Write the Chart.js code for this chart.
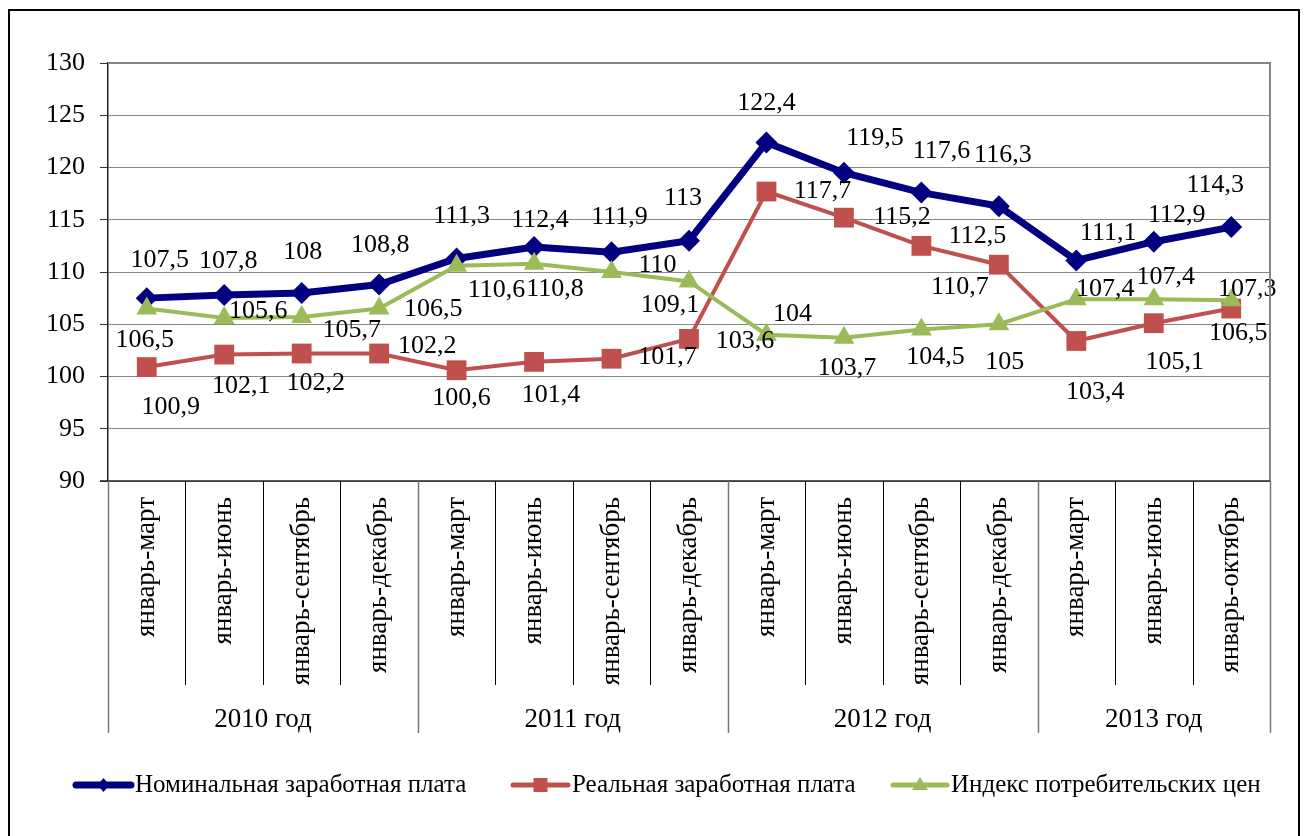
<!DOCTYPE html>
<html lang="ru">
<head>
<meta charset="utf-8">
<title>Заработная плата и индекс цен</title>
<script src="https://cdn.jsdelivr.net/npm/chart.js@4.4.1/dist/chart.umd.min.js"></script>
<style>
  html, body { margin: 0; padding: 0; background: #fff; }
  #wrap { width: 1306px; height: 836px; position: relative; }
</style>
</head>
<body>
<div id="wrap"><canvas id="chart" width="1306" height="836"></canvas></div>
<script>
// Данные графика
const periods = ['январь-март', 'январь-июнь', 'январь-сентябрь', 'январь-декабрь',
                 'январь-март', 'январь-июнь', 'январь-сентябрь', 'январь-декабрь',
                 'январь-март', 'январь-июнь', 'январь-сентябрь', 'январь-декабрь',
                 'январь-март', 'январь-июнь', 'январь-октябрь'];
const years = ['2010 год', '2011 год', '2012 год', '2013 год'];
const yearSizes = [4, 4, 4, 3];

const nominal = [107.5, 107.8, 108, 108.8, 111.3, 112.4, 111.9, 113, 122.4, 119.5, 117.6, 116.3, 111.1, 112.9, 114.3];
const real    = [100.9, 102.1, 102.2, 102.2, 100.6, 101.4, 101.7, 103.6, 117.7, 115.2, 112.5, 110.7, 103.4, 105.1, 106.5];
const cpi     = [106.5, 105.6, 105.7, 106.5, 110.6, 110.8, 110, 109.1, 104, 103.7, 104.5, 105, 107.4, 107.4, 107.3];

const yTicks = [90, 95, 100, 105, 110, 115, 120, 125, 130];

const seriesNames = ['Номинальная заработная плата', 'Реальная заработная плата', 'Индекс потребительских цен'];

// Смещения подписей значений относительно точки (px), как в исходнике
const nominalLabelOff = [[13,-38],[4,-34],[1,-41],[1,-39],[5,-42],[6,-27],[8,-35],[-6,-42],[0,-39],[31,-35],[20,-41],[4,-51],[32,-27],[23,-27],[-16,-42]];
const realLabelOff    = [[24,40],[17,32],[14,30],[48,-7],[5,28],[17,33],[56,-2],[56,2],[56,0],[58,0],[56,-10],[-39,22],[19,51],[21,39],[7,25]];
const cpiLabelOff     = [[-2,32],[34,-7],[50,13],[54,1],[40,24],[21,26],[46,-7],[-19,24],[26,-21],[3,30],[14,28],[6,38],[29,-10],[12,-22],[16,-11]];

const FONT = '"Liberation Serif", "Times New Roman", serif';
const NAVY = '#000080';
const RED = '#C0504D';
const GREEN = '#9BBB59';
const GRID = '#868686';

const fmt = (v) => String(v).replace('.', ',');

/* --------- Подписи значений --------- */
const valueLabels = {
  id: 'valueLabels',
  afterDatasetsDraw(chart){
    const ctx = chart.ctx;
    const offs = [nominalLabelOff, realLabelOff, cpiLabelOff];
    ctx.save();
    ctx.font = `26px ${FONT}`;
    ctx.fillStyle = '#000';
    ctx.textAlign = 'center';
    ctx.textBaseline = 'middle';
    chart.data.datasets.forEach((ds, di) => {
      const meta = chart.getDatasetMeta(di);
      meta.data.forEach((pt, i) => {
        const o = offs[di][i] || [0, -30];
        ctx.fillText(fmt(ds.data[i]), pt.x + o[0], pt.y + o[1]);
      });
    });
    ctx.restore();
  }
};

/* --------- Ось категорий (двухуровневая), рамки и легенда --------- */
const decorations = {
  id: 'decorations',
  afterDraw(chart){
    const ctx = chart.ctx;
    const a = chart.chartArea;
    const n = periods.length;
    const step = (a.right - a.left) / n;
    ctx.save();

    // рамка области построения (верх и право)
    ctx.strokeStyle = GRID;
    ctx.lineWidth = 2;
    ctx.beginPath();
    ctx.moveTo(a.left, a.top);
    ctx.lineTo(a.right, a.top);
    ctx.lineTo(a.right, a.bottom);
    ctx.stroke();

    // ось X
    ctx.strokeStyle = '#222';
    ctx.lineWidth = 1.5;
    ctx.beginPath();
    ctx.moveTo(a.left - 8, a.bottom);
    ctx.lineTo(a.right, a.bottom);
    ctx.stroke();

    // разделители категорий
    const groupEdges = [0];
    yearSizes.reduce((acc, s) => { groupEdges.push(acc + s); return acc + s; }, 0);
    for(let i = 0; i <= n; i++){
      const x = Math.round(a.left + i * step) + 0.5;
      const isGroup = groupEdges.includes(i);
      ctx.strokeStyle = isGroup ? '#777' : '#000';
      ctx.lineWidth = isGroup ? 1.5 : 1;
      ctx.beginPath();
      ctx.moveTo(x, a.bottom);
      ctx.lineTo(x, isGroup ? 733 : 685);
      ctx.stroke();
    }

    // подписи периодов (повёрнуты)
    ctx.fillStyle = '#000';
    ctx.font = `27px ${FONT}`;
    ctx.textAlign = 'right';
    ctx.textBaseline = 'middle';
    periods.forEach((p, i) => {
      const x = a.left + (i + 0.5) * step;
      ctx.save();
      ctx.translate(x, 497);
      ctx.rotate(-Math.PI / 2);
      ctx.fillText(p, 0, 0);
      ctx.restore();
    });

    // подписи годов
    ctx.textAlign = 'center';
    years.forEach((y, gi) => {
      const x = a.left + (groupEdges[gi] + groupEdges[gi + 1]) / 2 * step;
      ctx.fillText(y, x, 720);
    });

    // легенда
    const items = [
      { x: 76, text: 135, color: NAVY, width: 7, marker: 'diamond' },
      { x: 513, text: 572, color: RED, width: 5, marker: 'square' },
      { x: 893, text: 951, color: GREEN, width: 5, marker: 'triangle' }
    ];
    const ly = 785;
    ctx.font = `25px ${FONT}`;
    ctx.textAlign = 'left';
    items.forEach((it, k) => {
      ctx.strokeStyle = it.color;
      ctx.fillStyle = it.color;
      ctx.lineWidth = it.width;
      ctx.lineCap = 'round';
      ctx.beginPath();
      ctx.moveTo(it.x, ly);
      ctx.lineTo(it.text - 4, ly);
      ctx.stroke();
      const cx = (it.x + it.text - 4) / 2;
      ctx.beginPath();
      if(it.marker === 'diamond'){
        ctx.moveTo(cx, ly - 7); ctx.lineTo(cx + 6, ly); ctx.lineTo(cx, ly + 7); ctx.lineTo(cx - 6, ly);
      } else if(it.marker === 'square'){
        ctx.rect(cx - 7, ly - 7, 14, 14);
      } else {
        ctx.moveTo(cx, ly - 8); ctx.lineTo(cx + 8, ly + 5); ctx.lineTo(cx - 8, ly + 5);
      }
      ctx.closePath();
      ctx.fill();
      ctx.fillStyle = '#000';
      ctx.fillText(seriesNames[k], it.text, ly);
    });

    // внешняя рамка
    ctx.strokeStyle = '#000';
    ctx.lineWidth = 2;
    ctx.strokeRect(9, 10, 1290, 840);
    ctx.restore();
  }
};

window.addEventListener('DOMContentLoaded', () => {
  const ctx = document.getElementById('chart').getContext('2d');
  new Chart(ctx, {
    type: 'line',
    data: {
      labels: periods,
      datasets: [
        {
          label: seriesNames[0], data: nominal, order: 2,
          borderColor: NAVY, backgroundColor: NAVY, borderWidth: 7,
          pointStyle: 'rectRot', pointRadius: 11, pointBorderWidth: 0, tension: 0
        },
        {
          label: seriesNames[1], data: real, order: 1,
          borderColor: RED, backgroundColor: RED, borderWidth: 4,
          pointStyle: 'rect', pointRadius: 14, pointBorderWidth: 0, tension: 0
        },
        {
          label: seriesNames[2], data: cpi, order: 0,
          borderColor: GREEN, backgroundColor: GREEN, borderWidth: 4,
          pointStyle: 'triangle', pointRadius: 12, pointBorderWidth: 0, tension: 0
        }
      ]
    },
    options: {
      responsive: false,
      animation: false,
      layout: { padding: { left: 0, top: 63, right: 36, bottom: 355 } },
      plugins: {
        legend: { display: false },
        tooltip: { enabled: false }
      },
      scales: {
        x: { display: false, offset: true },
        y: {
          min: 90, max: 130,
          afterFit: (s) => { s.width = 108; },
          afterBuildTicks: (s) => { s.ticks = yTicks.map(v => ({ value: v })); },
          grid: { color: GRID, lineWidth: 1, tickLength: 8, tickColor: '#333' },
          border: { display: true, color: '#222', width: 1.5 },
          ticks: { color: '#000', font: { family: FONT, size: 26 }, padding: 15 }
        }
      }
    },
    plugins: [valueLabels, decorations]
  });
});
</script>
</body>
</html>
